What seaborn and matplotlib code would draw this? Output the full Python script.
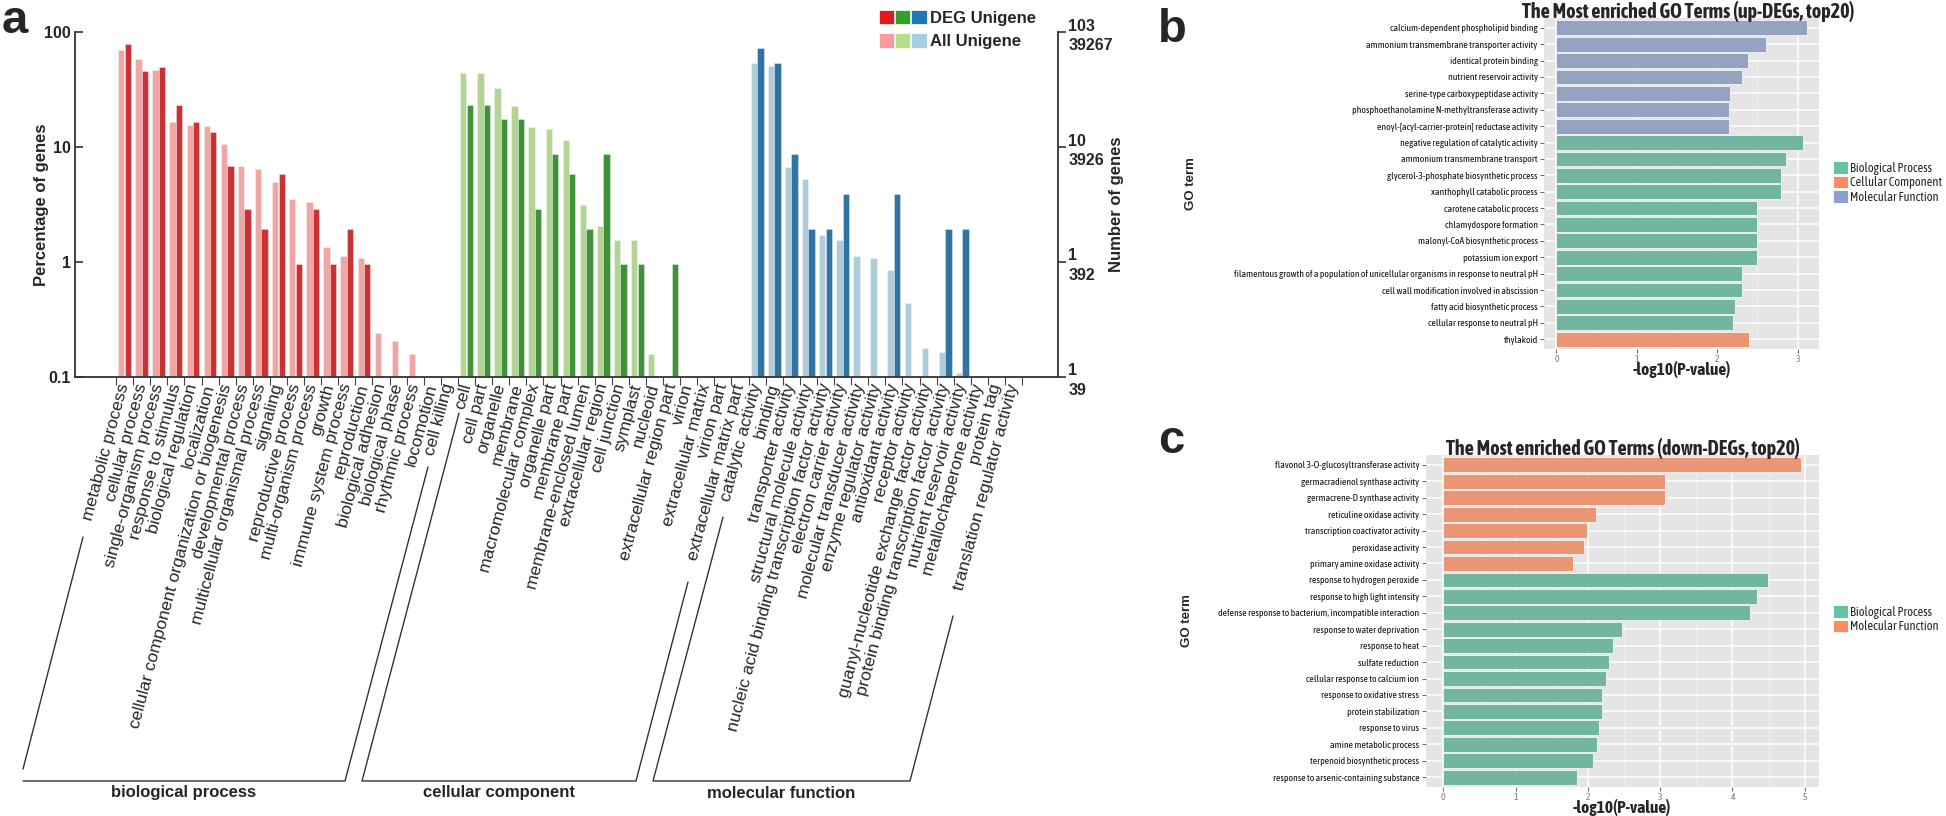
import numpy as np
import pandas as pd
import matplotlib
matplotlib.use("Agg")
import matplotlib.pyplot as plt
import seaborn as sns
from matplotlib.patches import Patch
from matplotlib.legend_handler import HandlerTuple
from matplotlib.ticker import NullLocator, FixedLocator
from matplotlib import font_manager as fm

# ---------------- data : panel a ----------------
bp_terms = ["metabolic process", "cellular process", "single-organism process", "response to stimulus",
            "biological regulation", "localization", "cellular component organization or biogenesis",
            "developmental process", "multicellular organismal process", "signaling", "reproductive process",
            "multi-organism process", "growth", "immune system process", "reproduction", "biological adhesion",
            "biological phase", "rhythmic process", "locomotion", "cell killing"]
bp_all = [70, 58, 47, 16.6, 15.6, 15.2, 10.6, 6.9, 6.4, 5.0, 3.5, 3.3, 1.35, 1.13, 1.09, 0.24, 0.207, 0.158, 0, 0]
bp_deg = [79, 46, 50, 23.3, 16.5, 13.6, 6.8, 2.9, 1.94, 5.8, 0.97, 2.9, 0.97, 1.94, 0.97, 0, 0, 0, 0, 0]

cc_terms = ["cell", "cell part", "organelle", "membrane", "macromolecular complex", "organelle part",
            "membrane part", "membrane-enclosed lumen", "extracellular region", "cell junction", "symplast",
            "nucleoid", "extracellular region part", "virion", "extracellular matrix", "virion part",
            "extracellular matrix part"]
cc_all = [43.7, 43.7, 32.4, 22.9, 14.8, 14.3, 11.5, 3.1, 2.04, 1.56, 1.56, 0.157, 0, 0, 0, 0, 0]
cc_deg = [23.3, 23.3, 17.4, 17.4, 2.9, 8.7, 5.8, 1.94, 8.7, 0.97, 0.97, 0, 0.97, 0, 0, 0, 0]

mf_terms = ["catalytic activity", "binding", "transporter activity", "structural molecule activity",
            "nucleic acid binding transcription factor activity", "electron carrier activity",
            "molecular transducer activity", "enzyme regulator activity", "antioxidant activity",
            "receptor activity", "guanyl-nucleotide exchange factor activity",
            "protein binding transcription factor activity", "nutrient reservoir activity",
            "metallochaperone activity", "protein tag", "translation regulator activity"]
mf_all = [54, 50.6, 6.65, 5.27, 1.71, 1.55, 1.13, 1.08, 0.85, 0.44, 0.178, 0.164, 0.108, 0, 0, 0]
mf_deg = [72.6, 53.4, 8.7, 1.94, 1.94, 3.88, 0, 0, 3.88, 0, 0, 1.94, 1.94, 0, 0, 0]

group_names = ["biological process", "cellular component", "molecular function"]
pct_ticks = [0.1, 1, 10, 100]
pct_tick_labels = ["0.1", "1", "10", "100"]
deg_count_labels = ["1", "1", "10", "103"]
all_count_labels = ["39", "392", "3926", "39267"]

# ---------------- data : panels b, c ----------------
up_terms = ["calcium-dependent phospholipid binding", "ammonium transmembrane transporter activity",
            "identical protein binding", "nutrient reservoir activity", "serine-type carboxypeptidase activity",
            "phosphoethanolamine N-methyltransferase activity", "enoyl-[acyl-carrier-protein] reductase activity",
            "negative regulation of catalytic activity", "ammonium transmembrane transport",
            "glycerol-3-phosphate biosynthetic process", "xanthophyll catabolic process",
            "carotene catabolic process", "chlamydospore formation", "malonyl-CoA biosynthetic process",
            "potassium ion export",
            "filamentous growth of a population of unicellular organisms in response to neutral pH",
            "cell wall modification involved in abscission", "fatty acid biosynthetic process",
            "cellular response to neutral pH", "thylakoid"]
up_values = [3.11, 2.61, 2.38, 2.31, 2.16, 2.14, 2.14, 3.06, 2.85, 2.79, 2.79, 2.49, 2.49, 2.49, 2.49,
             2.31, 2.31, 2.22, 2.19, 2.39]
up_ontology = ["Molecular Function"] * 7 + ["Biological Process"] * 12 + ["Cellular Component"]

down_terms = ["flavonol 3-O-glucosyltransferase activity", "germacradienol synthase activity",
              "germacrene-D synthase activity", "reticuline oxidase activity",
              "transcription coactivator activity", "peroxidase activity", "primary amine oxidase activity",
              "response to hydrogen peroxide", "response to high light intensity",
              "defense response to bacterium, incompatible interaction", "response to water deprivation",
              "response to heat", "sulfate reduction", "cellular response to calcium ion",
              "response to oxidative stress", "protein stabilization", "response to virus",
              "amine metabolic process", "terpenoid biosynthetic process",
              "response to arsenic-containing substance"]
down_values = [4.95, 3.06, 3.06, 2.11, 1.99, 1.94, 1.80, 4.49, 4.34, 4.24, 2.47, 2.35, 2.29, 2.25, 2.20,
               2.19, 2.15, 2.12, 2.07, 1.85]
down_ontology = ["Molecular Function"] * 7 + ["Biological Process"] * 13

# ---------------- styling ----------------
sns.set_theme(style="white")
plt.rcParams["font.family"] = ["Liberation Sans", "DejaVu Sans"]


def _w(v):
    if isinstance(v, (int, float)):
        return int(v)
    return {"ultralight": 200, "light": 300, "normal": 400, "regular": 400, "book": 400, "medium": 500,
            "roman": 400, "semibold": 600, "demibold": 600, "demi": 600, "bold": 700, "heavy": 800,
            "extra bold": 800, "black": 900}.get(str(v).lower(), 400)


cands = {}
for f in fm.fontManager.ttflist:
    nm = f.name
    if "narrow" in nm.lower() or "condensed" in nm.lower():
        cands.setdefault(nm, set()).add(_w(f.weight))

narrow_reg = None
narrow_bold = None
is_liberation_narrow = False
if "Liberation Sans Narrow" in cands:
    narrow_reg = narrow_bold = "Liberation Sans Narrow"
    is_liberation_narrow = True
else:
    for nm, ws in cands.items():
        if min(ws) <= 400 and narrow_reg is None:
            narrow_reg = nm
        if max(ws) >= 600 and min(ws) <= 500 and narrow_bold is None:
            narrow_bold = nm
    if narrow_bold is not None:
        narrow_reg = narrow_bold

if narrow_reg:
    GG_FONT = [narrow_reg, "DejaVu Sans"]
    SZ = dict(ylab=7.3 if is_liberation_narrow else 7.0, legend=9, xtick=7)
else:
    GG_FONT = ["Liberation Sans", "DejaVu Sans"]
    SZ = dict(ylab=6.5, legend=7.9, xtick=6.2)
if narrow_bold:
    GG_BOLD = [narrow_bold, "DejaVu Sans"]
    SZ.update(title=13 if is_liberation_narrow else 14.5, xlab=9.5 if is_liberation_narrow else 12.5)
else:
    GG_BOLD = ["Liberation Sans", "DejaVu Sans"]
    SZ.update(title=11.8, xlab=8.5)

W, H = 1946, 816
fig = plt.figure(figsize=(W / 100, H / 100), dpi=100)


def px_axes(l, t, r, b):
    return fig.add_axes([l / W, 1 - b / H, (r - l) / W, (b - t) / H])


# ================= panel a =================
light = {"biological process": "#FB9A99", "cellular component": "#B2DF8A", "molecular function": "#A6CEE3"}
dark = {"biological process": "#E31A1C", "cellular component": "#33A02C", "molecular function": "#1F78B4"}

terms = bp_terms + cc_terms + mf_terms
groups = [group_names[0]] * len(bp_terms) + [group_names[1]] * len(cc_terms) + [group_names[2]] * len(mf_terms)
dfa = pd.DataFrame({"pos": np.arange(len(terms)), "term": terms, "group": groups,
                    "all": bp_all + cc_all + mf_all, "deg": bp_deg + cc_deg + mf_deg})

axA = px_axes(75, 32, 1058, 377)
axA.set_yscale("log")
off = 0.19
d_all = dfa[dfa["all"] > 0].assign(x=lambda d: d["pos"] - off)
d_deg = dfa[dfa["deg"] > 0].assign(x=lambda d: d["pos"] + off)
sns.barplot(data=d_all, x="x", y="all", hue="group", palette=light, native_scale=True, dodge=False,
            width=0.37, errorbar=None, legend=False, ax=axA, edgecolor=(1, 1, 1, 0.5), linewidth=0.5)
sns.barplot(data=d_deg, x="x", y="deg", hue="group", palette=dark, native_scale=True, dodge=False,
            width=0.37, errorbar=None, legend=False, ax=axA, edgecolor=(1, 1, 1, 0.5), linewidth=0.5)
axA.set_xlim(-2.9, 54.6)
axA.set_ylim(0.1, 100)
axA.set_yticks(pct_ticks)
axA.set_yticklabels(pct_tick_labels, fontsize=11.5, fontweight="bold")
axA.yaxis.set_minor_locator(NullLocator())
axA.set_xticks(dfa["pos"])
axA.set_xticklabels(terms, rotation=75, ha="right", va="center", rotation_mode="anchor", fontsize=12.6)
axA.xaxis.set_minor_locator(FixedLocator(np.arange(-0.5, len(terms), 1.0)))
axA.tick_params(axis="x", which="major", length=0, pad=5)
axA.tick_params(axis="x", which="minor", length=6, width=0.8, color="#444444", direction="out", bottom=True)
axA.tick_params(axis="y", which="major", length=6, width=1.2, color="#333333", direction="in", left=True, pad=3)
for s in ["top", "right"]:
    axA.spines[s].set_visible(False)
for s in ["left", "bottom"]:
    axA.spines[s].set_color("#333333")
    axA.spines[s].set_linewidth(1.3)
axA.set_xlabel("")
axA.set_ylabel("Percentage of genes", fontsize=12, fontweight="bold")
axA.yaxis.set_label_coords(-0.0265, 0.5)

ax2 = axA.twinx()
ax2.set_yscale("log")
ax2.set_ylim(0.1, 100)
ax2.set_yticks(pct_ticks)
ax2.set_yticklabels([f"{a}\n{b}" for a, b in zip(deg_count_labels, all_count_labels)],
                    fontsize=11.5, fontweight="bold", linespacing=1.35)
ax2.yaxis.set_minor_locator(NullLocator())
ax2.tick_params(axis="y", which="major", length=6, width=1.2, color="#333333", direction="out", right=True, pad=1.5)
for s in ["top", "left", "bottom"]:
    ax2.spines[s].set_visible(False)
ax2.spines["right"].set_color("#333333")
ax2.spines["right"].set_linewidth(1.3)
ax2.set_ylabel("Number of genes", fontsize=12, fontweight="bold", rotation=90)
ax2.yaxis.set_label_coords(1.052, 0.5)
ax2.yaxis.label.set_va("top")

hdeg = tuple(Patch(facecolor=dark[g], edgecolor="white", linewidth=0.5) for g in group_names)
hall = tuple(Patch(facecolor=light[g], edgecolor="white", linewidth=0.5) for g in group_names)
axA.legend([hdeg, hall], ["DEG Unigene", "All Unigene"], handler_map={tuple: HandlerTuple(ndivide=None, pad=0.05)},
           loc="upper left", bbox_to_anchor=(879 / W, 1 - 10 / H), bbox_transform=fig.transFigure,
           frameon=False, borderaxespad=0, borderpad=0, handlelength=2.85, handleheight=0.95,
           handletextpad=0.2, labelspacing=0.45, prop=dict(weight="bold", size=12))


# ================= panels b and c (ggplot style) =================
def gg_style(ax, xticks, xlim):
    ax.set_facecolor("#E5E5E5")
    for s in ax.spines.values():
        s.set_visible(False)
    ax.set_axisbelow(True)
    ax.set_xticks(xticks)
    ax.xaxis.set_minor_locator(FixedLocator(np.array(xticks[:-1]) + 0.5))
    ax.grid(True, which="major", color="white", linewidth=1.1)
    ax.grid(True, which="minor", axis="x", color="#F2F2F2", linewidth=0.5)
    ax.set_xlim(*xlim)
    ax.set_ylim(19.6, -0.6)
    ax.tick_params(axis="both", which="major", length=3, width=0.6, color="#4D4D4D", bottom=True, left=True, pad=1.5)
    ax.tick_params(axis="both", which="minor", length=0)
    ax.set_xticklabels([str(t) for t in xticks], fontsize=SZ["xtick"], color="#7F7F7F", fontfamily=GG_FONT)
    for lab in ax.get_yticklabels():
        lab.set_fontsize(SZ["ylab"])
        lab.set_color("#111111")
        lab.set_fontfamily(GG_FONT)


pal_b = {"Biological Process": "#66C2A5", "Cellular Component": "#FC8D62", "Molecular Function": "#8DA0CB"}
pal_c = {"Biological Process": "#66C2A5", "Molecular Function": "#FC8D62"}

axB = px_axes(1544, 18, 1819, 349)
dfb = pd.DataFrame({"term": up_terms, "value": up_values, "ontology": up_ontology})
sns.barplot(data=dfb, x="value", y="term", hue="ontology", palette=pal_b, dodge=False, width=0.9, orient="h",
            errorbar=None, legend=False, ax=axB, edgecolor="white", linewidth=0.5)
gg_style(axB, [0, 1, 2, 3], (-0.155, 3.265))

axC = px_axes(1425.5, 455, 1819, 787)
dfc = pd.DataFrame({"term": down_terms, "value": down_values, "ontology": down_ontology})
sns.barplot(data=dfc, x="value", y="term", hue="ontology", palette=pal_c, dodge=False, width=0.9, orient="h",
            errorbar=None, legend=False, ax=axC, edgecolor="white", linewidth=0.5)
gg_style(axC, [0, 1, 2, 3, 4, 5], (-0.2475, 5.1975))

for ax, title, tx, gx, pal, ly in [
    (axB, "The Most enriched GO Terms (up-DEGs, top20)", 0.524, -1.262, pal_b, 161),
    (axC, "The Most enriched GO Terms (down-DEGs, top20)", 0.502, -0.591, pal_c, 605)]:
    ax.set_title(title, x=tx, y=1.0, pad=0, va="baseline", fontsize=SZ["title"], fontweight="bold",
                 fontfamily=GG_BOLD)
    ax.set_xlabel("-log10(P-value)", fontsize=SZ["xlab"], fontweight="bold", fontfamily=GG_BOLD)
    ax.xaxis.set_label_coords(0.5, -0.036)
    ax.xaxis.label.set_va("top")
    ax.set_ylabel("GO term", fontsize=9.5, fontweight="bold")
    ax.yaxis.set_label_coords(gx, 0.5)
    handles = [Patch(facecolor=c, edgecolor="white", linewidth=0.6) for c in pal.values()]
    fs_px = SZ["legend"] * 100 / 72
    ax.legend(handles, list(pal.keys()), loc="upper left", bbox_to_anchor=(1833 / W, 1 - ly / H),
              bbox_transform=fig.transFigure, frameon=False, borderaxespad=0, borderpad=0,
              handlelength=15 / fs_px, handleheight=15 / fs_px, handletextpad=0.2, labelspacing=0.08,
              prop=dict(size=SZ["legend"], family=GG_FONT))

# ================= overlay: panel letters and group brackets =================
ov = fig.add_axes([0, 0, 1, 1])
ov.set_xlim(0, W)
ov.set_ylim(H, 0)
ov.axis("off")
for letter, x, y in [("a", 2, 33), ("b", 1158, 42), ("c", 1158, 453)]:
    ov.text(x, y, letter, fontsize=34, fontweight="bold", va="baseline", ha="left")

bracket_lines = [
    [(83, 537), (23, 769)], [(23, 781), (345, 781), (428, 467)],
    [(459, 413), (362, 781), (636, 781), (688, 582)],
    [(723, 517), (653, 781), (910, 781), (953, 616)],
]
for seg in bracket_lines:
    xs, ys = zip(*seg)
    ov.plot(xs, ys, color="#333333", linewidth=1.0)
for name, cx in zip(group_names, [184, 499, 781]):
    ov.text(cx, 793, name, fontsize=12, fontweight="bold", ha="center", va="center")

fig.savefig("out.png", dpi=100)
